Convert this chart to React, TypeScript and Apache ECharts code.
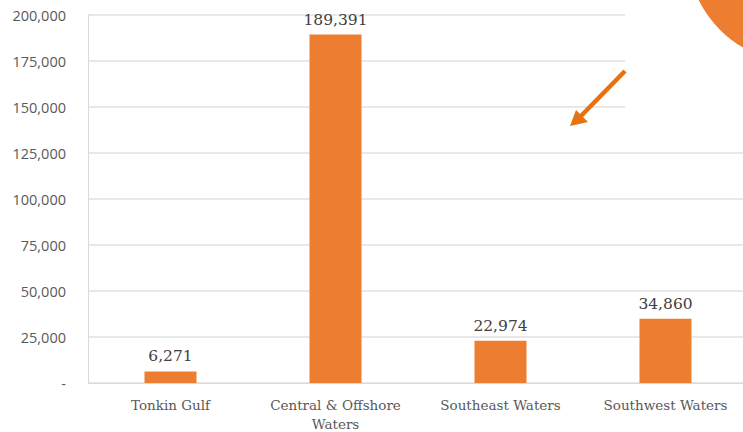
import React, { useEffect, useRef } from "react";
import * as echarts from "echarts";

const categories = ["Tonkin Gulf", "Central & Offshore\nWaters", "Southeast Waters", "Southwest Waters"];
const values = [6271, 189391, 22974, 34860];
const yTicks = [0, 25000, 50000, 75000, 100000, 125000, 150000, 175000, 200000];

export default function App() {
  const ref = useRef<HTMLDivElement>(null);
  useEffect(() => {
    if (!ref.current) return;
    const chart = echarts.init(ref.current, undefined, { renderer: "svg" });
    chart.setOption({
      animation: false,
      grid: { left: 88, top: 15, width: 660, height: 368, containLabel: false, outerBoundsMode: "none" },
      xAxis: {
        type: "category",
        data: categories,
        axisLine: { lineStyle: { color: "#d9d9d9", width: 1 } },
        axisTick: { show: false },
        axisLabel: {
          color: "#595959",
          fontFamily: "DejaVu Serif",
          fontSize: 13.5,
          margin: 12,
          lineHeight: 19,
          interval: 0,
        },
      },
      yAxis: {
        type: "value",
        min: yTicks[0],
        max: yTicks[yTicks.length - 1],
        interval: 25000,
        axisLine: { show: true, lineStyle: { color: "#d9d9d9" } },
        axisTick: { show: false },
        splitLine: { lineStyle: { color: "#e0e0e0", width: 1.5 } },
        axisLabel: {
          color: "#595959",
          fontFamily: "Open Sans",
          fontSize: 14.5,
          margin: 22,
          formatter: (v: number) => (v === 0 ? "-" : v.toLocaleString("en-US")),
        },
      },
      series: [
        {
          type: "bar",
          data: values,
          barWidth: 52,
          itemStyle: { color: "#ED7D31" },
          label: {
            show: true,
            position: "top",
            distance: 7,
            color: "#404040",
            fontFamily: "DejaVu Serif",
            fontSize: 15.5,
            formatter: (p: any) => Number(p.value).toLocaleString("en-US"),
          },
        },
      ],
      graphic: [
        { type: "rect", shape: { x: 625, y: 0, width: 130, height: 140 }, style: { fill: "#ffffff" }, z: 100 },
        { type: "circle", shape: { cx: 800, cy: -50, r: 113 }, style: { fill: "#ED7D31" }, z: 101 },
        { type: "line", shape: { x1: 625, y1: 71, x2: 580, y2: 117 }, style: { stroke: "#E8720F", lineWidth: 4.5 }, z: 101 },
        {
          type: "polygon",
          shape: { points: [[570, 126], [576, 110], [588, 122]] },
          style: { fill: "#E8720F" },
          z: 101,
        },
      ],
    });
    return () => chart.dispose();
  }, []);
  return <div ref={ref} style={{ width: 743, height: 432, position: "absolute", left: 0, top: 0 }} />;
}
